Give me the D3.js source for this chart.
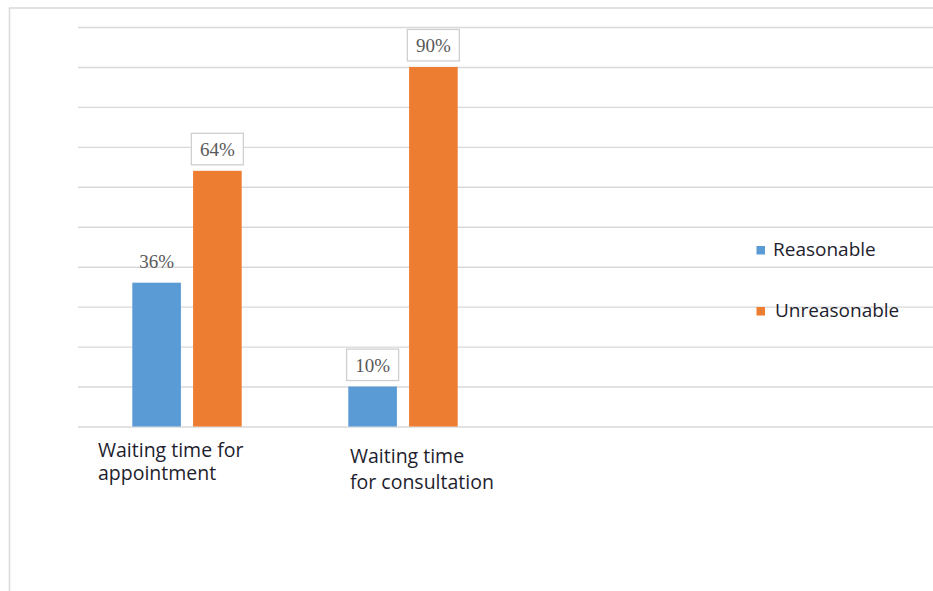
<!DOCTYPE html>
<html>
<head>
<meta charset="utf-8">
<script src="https://cdn.jsdelivr.net/npm/d3@7"></script>
<style>
  html, body { margin: 0; padding: 0; background: #fff; }
  svg { display: block; }
</style>
</head>
<body>
<div id="chart"></div>
<script>
// Data

const categories = ['appointment', 'consultation'];
const categoryLines = [
  ['Waiting time for', 'appointment'],
  ['Waiting time', 'for consultation'],
];
const seriesNames = ['Reasonable', 'Unreasonable'];
const reasonable = [0.36, 0.10];
const unreasonable = [0.64, 0.90];
const yTicks = [0, 0.1, 0.2, 0.3, 0.4, 0.5, 0.6, 0.7, 0.8, 0.9, 1];

const colors = { Reasonable: '#5B9BD5', Unreasonable: '#ED7D31' };
const gridColor = '#d9d9d9';

const width = 933;
const height = 591;

// Plot area (matches the reference frame)
const plot = { left: 78, right: 933, top: 27, bottom: 426.5 };
const bandStep = 216;

const svg = d3.select('#chart').append('svg')
  .attr('width', width)
  .attr('height', height);

// Outer chart frame (only left and top edges are visible)
svg.append('path')
  .attr('d', `M9.5,${height} V8 H${width}`)
  .attr('fill', 'none')
  .attr('stroke', gridColor)
  .attr('stroke-width', 1.5);

// Scales
const yScale = d3.scaleLinear().domain([0, 1]).range([plot.bottom, plot.top]);

const xScale = d3.scaleBand()
  .domain(categories)
  .range([plot.left + 1, plot.left + 1 + bandStep * categories.length]);

const xSub = d3.scaleBand()
  .domain(seriesNames)
  .range([53.3, 162.7])
  .paddingInner(0.2);

// Gridlines through an axis
const yAxis = d3.axisLeft(yScale)
  .tickValues(yTicks)
  .tickSize(-(plot.right - plot.left))
  .tickFormat('');

const gridGroup = svg.append('g')
  .attr('transform', `translate(${plot.left}, 0)`)
  .call(yAxis);
gridGroup.select('.domain').remove();
gridGroup.selectAll('.tick line')
  .attr('stroke', gridColor)
  .attr('stroke-width', 1.4);

// Bars
const rows = categories.map((c, i) => ({
  cat: c,
  values: [
    { series: 'Reasonable', value: reasonable[i] },
    { series: 'Unreasonable', value: unreasonable[i] },
  ],
}));

const groups = svg.append('g')
  .selectAll('g')
  .data(rows)
  .enter()
  .append('g')
  .attr('transform', d => `translate(${xScale(d.cat)}, 0)`);

groups.selectAll('rect')
  .data(d => d.values)
  .enter()
  .append('rect')
  .attr('x', d => xSub(d.series))
  .attr('width', xSub.bandwidth())
  .attr('y', d => yScale(d.value))
  .attr('height', d => yScale(0) - yScale(d.value))
  .attr('fill', d => colors[d.series]);

// Data labels; the 36% one has no box in the reference
const labels = groups.selectAll('g.label')
  .data(d => d.values.map(v => Object.assign({ cat: d.cat }, v)))
  .enter()
  .append('g')
  .attr('class', 'label')
  .attr('transform', d => {
    const cx = xSub(d.series) + xSub.bandwidth() / 2;
    return `translate(${cx}, ${yScale(d.value) - 21.5})`;
  });

labels.filter(d => !(d.cat === 'appointment' && d.series === 'Reasonable'))
  .append('rect')
  .attr('x', -26)
  .attr('y', -16)
  .attr('width', 52)
  .attr('height', 31.5)
  .attr('fill', '#fff')
  .attr('stroke', '#cfcfcf')
  .attr('stroke-width', 1.3);

labels.append('text')
  .attr('text-anchor', 'middle')
  .attr('y', 6.5)
  .attr('font-family', 'Liberation Serif, serif')
  .attr('font-size', 19)
  .attr('fill', '#595959')
  .text(d => d3.format('.0%')(d.value));

// Category labels (left-aligned, wrapped)
const labelLayout = [
  { dx: 19, y: 457, lh: 23 },
  { dx: 55, y: 463, lh: 26 },
];

svg.append('g')
  .selectAll('text')
  .data(categories)
  .enter()
  .append('text')
  .attr('font-family', 'Open Sans, sans-serif')
  .attr('font-size', 19.5)
  .attr('fill', '#1e1e2e')
  .each(function (d, i) {
    const t = d3.select(this);
    categoryLines[i].forEach((line, j) => {
      t.append('tspan')
        .attr('x', xScale(d) + labelLayout[i].dx)
        .attr('y', labelLayout[i].y + j * labelLayout[i].lh)
        .text(line);
    });
  });

// Legend
const legend = svg.append('g')
  .selectAll('g')
  .data(seriesNames)
  .enter()
  .append('g')
  .attr('transform', (d, i) => `translate(756.5, ${250 + i * 61})`);

legend.append('rect')
  .attr('x', 0)
  .attr('y', -4)
  .attr('width', 8.5)
  .attr('height', 8.5)
  .attr('fill', d => colors[d]);

legend.append('text')
  .attr('x', (d, i) => (i === 0 ? 16.5 : 18.5))
  .attr('y', 6)
  .attr('font-family', 'Open Sans, sans-serif')
  .attr('font-size', 19)
  .attr('fill', '#1e1e2e')
  .text(d => d);
</script>
</body>
</html>
